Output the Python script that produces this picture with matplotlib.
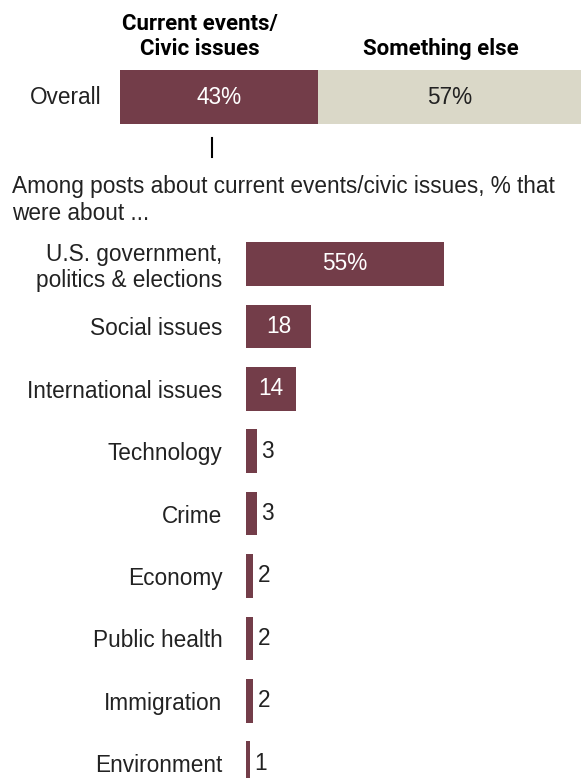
import matplotlib
matplotlib.use("Agg")
import matplotlib.pyplot as plt

# ---- data ----
overall_labels = ["Current events/\nCivic issues", "Something else"]
overall_values = [43, 57]
categories = ["U.S. government,\npolitics & elections", "Social issues", "International issues",
              "Technology", "Crime", "Economy", "Public health", "Immigration", "Environment"]
values = [55, 18, 14, 3, 3, 2, 2, 2, 1]
value_labels = ["55%", "18", "14", "3", "3", "2", "2", "2", "1"]

MAROON = "#733D49"
BEIGE = "#DAD8C8"
TXT = "#222222"
FS = 16.3
W, H = 581, 778
plt.rcParams['font.family'] = ['Liberation Sans', 'DejaVu Sans']

fig = plt.figure(figsize=(W / 100, H / 100), dpi=100)

def fx(px):
    return px / W

def fy(py):
    return 1 - py / H

# ---- top overall bar ----
ax1 = fig.add_axes([fx(120), fy(124), fx(581 - 120), (124 - 70) / H])
left = 0
colors = [MAROON, BEIGE]
txtc = ["white", TXT]
for v, c, tc in zip(overall_values, colors, txtc):
    ax1.barh(0, v, left=left, height=1, color=c)
    ax1.text(left + v / 2, 0, f"{v}%", ha="center", va="center", color=tc, fontsize=FS)
    left += v
ax1.set_xlim(0, 100)
ax1.set_ylim(-0.5, 0.5)
ax1.axis("off")
ax1.text(-4, 0, "Overall", ha="right", va="center", fontsize=FS, color=TXT)

hdr = dict(fontsize=16, fontweight="bold", family=["Roboto", "DejaVu Sans"], color="black")
fig.text(fx(200), fy(55), overall_labels[0], ha="center", va="baseline",
         linespacing=1.2, **hdr)
fig.text(fx(441), fy(55), overall_labels[1], ha="center", va="baseline", **hdr)

# connector line
fig.add_artist(plt.Line2D([fx(212), fx(212)], [fy(138), fy(157)], color="black", lw=1.5))

fig.text(fx(12), fy(220), "Among posts about current events/civic issues, % that\nwere about ...",
         ha="left", va="baseline", fontsize=FS, color=TXT, linespacing=1.2)

# ---- bottom bars ----
step = 62.4
top = 264 - step / 2
bottom = top + len(categories) * step
ax2 = fig.add_axes([fx(246), fy(bottom), fx(581 - 246), (bottom - top) / H])
ppu = 3.6
y = list(range(len(categories)))
ax2.barh(y, values, height=0.7, color=MAROON)
ax2.set_xlim(0, (581 - 246) / ppu)
ax2.set_ylim(len(categories) - 0.5, -0.5)
for s in ax2.spines.values():
    s.set_visible(False)
ax2.set_xticks([])
ax2.set_yticks(y)
ax2.set_yticklabels(categories, fontsize=FS, color=TXT, linespacing=1.15)
ax2.tick_params(axis="y", length=0, pad=17)
for yi, v, lab in zip(y, values, value_labels):
    if v >= 10:
        ax2.text(v / 2, yi, lab, ha="center", va="center", color="white", fontsize=FS)
    else:
        ax2.text(v + 1.3, yi, lab, ha="left", va="center", color=TXT, fontsize=FS)

fig.savefig("out.png", dpi=100)
